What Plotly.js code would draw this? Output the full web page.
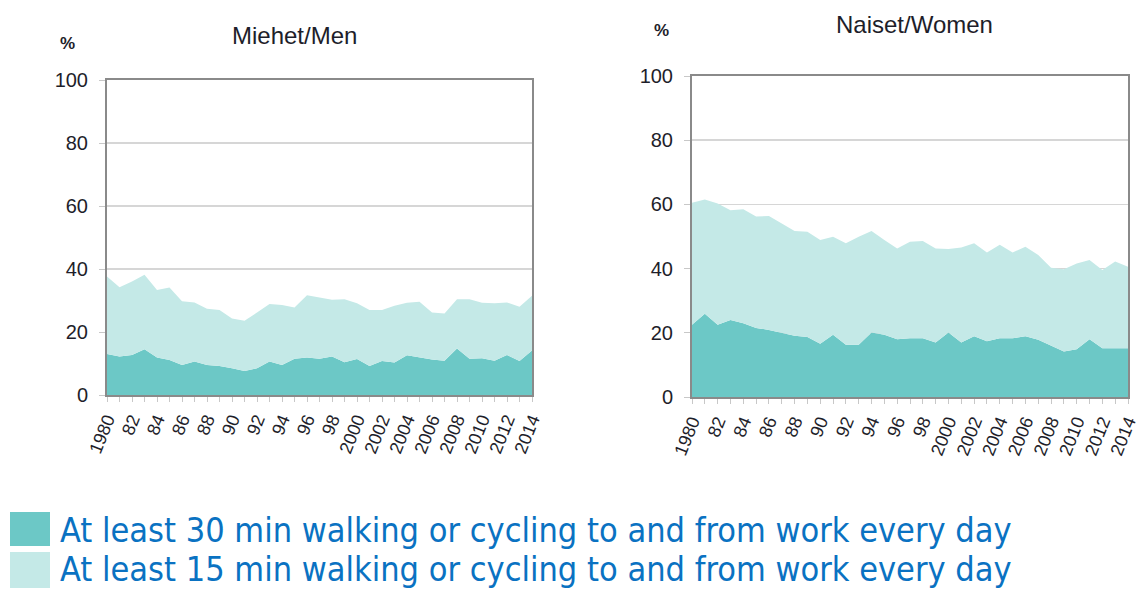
<!DOCTYPE html>
<html>
<head>
<meta charset="utf-8">
<script src="https://cdn.plot.ly/plotly-3.0.1.min.js"></script>
<style>html,body{margin:0;padding:0;background:#fff;}#chart{width:1142px;height:589px;}</style>
</head>
<body>
<div id="chart"></div>
<script>
const years = [];
for (let y = 1980; y <= 2014; y++) years.push(y);

const men30 = [13.0,12.2,12.7,14.5,11.9,11.1,9.5,10.6,9.5,9.2,8.5,7.6,8.5,10.6,9.5,11.5,11.9,11.5,12.2,10.4,11.4,9.2,10.8,10.3,12.6,11.9,11.3,10.9,14.8,11.5,11.7,10.9,12.7,10.8,14.1];
const men15 = [37.6,34.2,36.0,38.2,33.3,34.1,29.8,29.4,27.4,27.0,24.3,23.6,26.2,28.9,28.6,27.8,31.7,30.9,30.2,30.4,29.1,27.0,27.0,28.3,29.3,29.6,26.2,25.9,30.4,30.4,29.3,29.1,29.4,28.0,31.5];
const women30 = [22.5,25.9,22.5,24.0,23.0,21.5,20.9,19.9,19.1,18.7,16.6,19.4,16.3,16.3,20.1,19.4,18.0,18.3,18.3,17.0,20.1,17.0,18.9,17.4,18.3,18.3,18.9,17.8,15.9,14.2,14.9,18.0,15.2,15.2,15.2];
const women15 = [60.5,61.5,60.3,58.2,58.5,56.2,56.4,54.1,51.7,51.5,48.9,49.9,47.9,49.9,51.7,48.9,46.3,48.4,48.6,46.3,46.1,46.6,47.9,45.0,47.4,45.0,46.8,44.2,40.3,39.8,41.6,42.7,39.6,42.2,40.6];

const tickVals = [1980,1982,1984,1986,1988,1990,1992,1994,1996,1998,2000,2002,2004,2006,2008,2010,2012,2014];
const tickText = ["1980","82","84","86","88","90","92","94","96","98","2000","2002","2004","2006","2008","2010","2012","2014"];

const panelTitles = ["Miehet/Men","Naiset/Women"];
const legendLabels = ["At least 30 min walking or cycling to and from work every day","At least 15 min walking or cycling to and from work every day"];

const darkCol = '#6cc8c6';
const lightCol = '#c4e9e7';

function area(x, y, xa, ya, fill, col) {
  return {x: x, y: y, xaxis: xa, yaxis: ya, type: 'scatter', mode: 'lines',
    line: {width: 0, color: col}, fill: fill, fillcolor: col, showlegend: false, hoverinfo: 'skip'};
}

const data = [
  area(years, men30, 'x', 'y', 'tozeroy', darkCol),
  area(years, men15, 'x', 'y', 'tonexty', lightCol),
  area(years, women30, 'x2', 'y2', 'tozeroy', darkCol),
  area(years, women15, 'x2', 'y2', 'tonexty', lightCol)
];

const W = 1142, H = 589;
function px(x){return x/W;}
function py(y){return 1 - y/H;}

const yTickFont = {family: 'Liberation Sans, Arial, sans-serif', size: 20, color: '#1e1e2a'};
const xTickFont = {family: 'Liberation Sans, Arial, sans-serif', size: 18, color: '#1e1e2a'};

function xAxis(d0, d1, anchor) {
  return {domain: [px(d0), px(d1)], anchor: anchor, range: [1980, 2014], tickmode: 'array',
    tickvals: tickVals, ticktext: tickText, tickangle: -68, tickfont: xTickFont, ticklabeloverflow: 'allow',
    showgrid: false, zeroline: false, showline: true, linecolor: '#8a8a8a', linewidth: 2, mirror: true,
    ticks: 'outside', ticklen: 5, tickcolor: '#c8c8c8', tickwidth: 1,
    minor: {dtick: 1, tick0: 1980, ticks: 'outside', ticklen: 5, tickcolor: '#c8c8c8', tickwidth: 1, showgrid: false},
    fixedrange: true};
}
function yAxis(t, b, anchor) {
  return {domain: [py(b), py(t)], anchor: anchor, range: [0, 100], tickvals: [0,20,40,60,80,100],
    tickfont: yTickFont, showgrid: true, gridcolor: '#d6d6d6', gridwidth: 1.5, zeroline: false,
    showline: true, linecolor: '#8a8a8a', linewidth: 2, mirror: true,
    ticks: 'outside', ticklen: 6, tickcolor: '#c8c8c8', ticklabelstandoff: 7, fixedrange: true};
}

const layout = {
  width: W, height: H, margin: {l: 0, r: 0, t: 0, b: 0},
  paper_bgcolor: '#fff', plot_bgcolor: '#fff', showlegend: false,
  xaxis: xAxis(107, 532, 'y'),
  yaxis: yAxis(80, 395, 'x'),
  xaxis2: xAxis(692, 1128, 'y2'),
  yaxis2: yAxis(76, 397, 'x2'),
  shapes: [
    {type: 'rect', xref: 'paper', yref: 'paper', x0: px(10), x1: px(50), y0: py(512), y1: py(546), fillcolor: darkCol, line: {width: 0}},
    {type: 'rect', xref: 'paper', yref: 'paper', x0: px(10), x1: px(50), y0: py(552), y1: py(588), fillcolor: lightCol, line: {width: 0}}
  ],
  annotations: [
    {text: panelTitles[0], xref: 'paper', yref: 'paper', x: px(294), y: py(35), xanchor: 'center', yanchor: 'middle', showarrow: false, font: {family: 'Liberation Sans, Arial, sans-serif', size: 24, color: '#1e1e2a'}},
    {text: panelTitles[1], xref: 'paper', yref: 'paper', x: px(914), y: py(24), xanchor: 'center', yanchor: 'middle', showarrow: false, font: {family: 'Liberation Sans, Arial, sans-serif', size: 24, color: '#1e1e2a'}},
    {text: '<b>%</b>', xref: 'paper', yref: 'paper', x: px(67), y: py(43), xanchor: 'center', yanchor: 'middle', showarrow: false, font: {family: 'Liberation Sans, Arial, sans-serif', size: 17, color: '#1e1e2a'}},
    {text: '<b>%</b>', xref: 'paper', yref: 'paper', x: px(661), y: py(30), xanchor: 'center', yanchor: 'middle', showarrow: false, font: {family: 'Liberation Sans, Arial, sans-serif', size: 17, color: '#1e1e2a'}},
    {text: legendLabels[0], xref: 'paper', yref: 'paper', x: px(58), y: py(530), xanchor: 'left', yanchor: 'middle', showarrow: false, font: {family: 'DejaVu Sans Condensed, DejaVu Sans, sans-serif', size: 34, color: '#0a72c2'}},
    {text: legendLabels[1], xref: 'paper', yref: 'paper', x: px(58), y: py(569), xanchor: 'left', yanchor: 'middle', showarrow: false, font: {family: 'DejaVu Sans Condensed, DejaVu Sans, sans-serif', size: 34, color: '#0a72c2'}}
  ]
};

Plotly.newPlot('chart', data, layout, {staticPlot: true, displayModeBar: false});
</script>
</body>
</html>
